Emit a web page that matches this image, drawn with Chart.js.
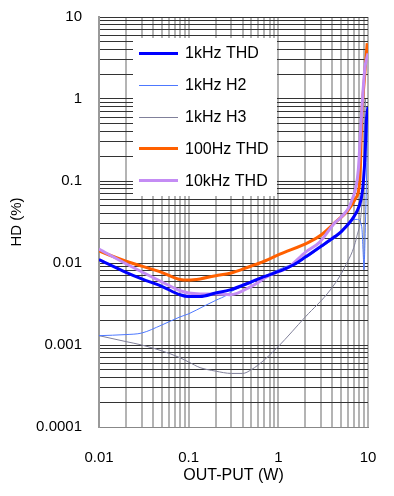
<!DOCTYPE html><html lang="ja">
<head>
<meta charset="utf-8"/>
<title>HD vs OUT-PUT</title>
<script src="https://cdn.jsdelivr.net/npm/chart.js"></script>
<style>
  html,body{margin:0;padding:0;background:#fff}
  canvas{display:block}
</style>
</head>
<body>
<canvas id="chart" width="394" height="496"></canvas>
<script>
// -------- data (W -> %) --------
const thd1kX = [0.01, 0.02, 0.03, 0.05, 0.08, 0.1, 0.134, 0.2, 0.29, 0.5, 0.62, 1.04, 1.5, 2, 3, 4.27, 5, 7, 8, 8.5, 8.9, 9.3, 9.6, 10];
const thd1kY = [0.011, 0.0077, 0.0064, 0.0052, 0.0041, 0.0039, 0.0039, 0.0043, 0.0047, 0.0059, 0.0065, 0.008, 0.0096, 0.0118, 0.016, 0.021, 0.024, 0.037, 0.05, 0.065, 0.1, 0.22, 0.55, 0.8];

const h2X = [0.01, 0.02, 0.03, 0.05, 0.08, 0.1, 0.15, 0.2, 0.27, 0.3, 0.5, 0.7, 1, 2, 3, 5, 7, 7.6, 8.5, 8.9, 9.0, 9.3, 9.6, 9.8, 10];
const h2Y = [0.0013, 0.00134, 0.0014, 0.00175, 0.0022, 0.0024, 0.003, 0.0035, 0.0041, 0.0045, 0.0057, 0.0069, 0.0083, 0.0114, 0.0155, 0.023, 0.034, 0.034, 0.028, 0.011, 0.0083, 0.023, 0.095, 0.3, 0.75];

const h3X = [0.01, 0.02, 0.03, 0.05, 0.08, 0.1, 0.134, 0.2, 0.3, 0.4, 0.5, 0.7, 1, 2, 3.8, 5.5, 7.5, 8.5, 8.9, 9.2, 9.4];
const h3Y = [0.0013, 0.0011, 0.001, 0.00085, 0.0007, 0.00062, 0.00053, 0.00048, 0.00045, 0.00045, 0.0005, 0.00066, 0.00096, 0.0022, 0.0047, 0.0089, 0.021, 0.048, 0.137, 0.56, 1.0];

const thd100X = [0.01, 0.02, 0.05, 0.08, 0.1, 0.134, 0.2, 0.29, 0.5, 0.62, 1.04, 2.2, 3, 4.27, 6, 7.2, 8.1, 8.3, 8.5, 8.8, 9.1, 9.5, 9.8];
const thd100Y = [0.014, 0.0105, 0.0077, 0.0063, 0.0062, 0.0064, 0.007, 0.0075, 0.0092, 0.01, 0.0128, 0.018, 0.022, 0.031, 0.044, 0.06, 0.1, 0.2, 0.6, 1.1, 1.7, 3.2, 4.8];

const thd10kX = [0.01, 0.02, 0.05, 0.08, 0.1, 0.134, 0.2, 0.29, 0.5, 0.8, 1.3, 2, 2.9, 4.27, 5, 6.6, 7.8, 8.4, 9.2, 10];
const thd10kY = [0.0148, 0.0098, 0.0059, 0.0046, 0.0043, 0.0042, 0.0042, 0.0041, 0.0052, 0.0071, 0.0089, 0.0135, 0.018, 0.031, 0.036, 0.058, 0.137, 0.56, 2.3, 3.6];

const seriesLabels = ['1kHz THD', '1kHz H2', '1kHz H3', '100Hz THD', '10kHz THD'];
const xTickLabels = ['0.01', '0.1', '1', '10'];
const yTickLabels = ['0.0001', '0.001', '0.01', '0.1', '1', '10'];

// -------- helpers --------
const FONT = "'Liberation Sans', Arial, sans-serif";
const pts = (xs, ys) => xs.map((x, i) => ({x, y: ys[i]}));
// grid at 1..9 of every decade between the first and last labelled value
function logGrid(labels){
  const out = [];
  const lo = Math.round(Math.log10(+labels[0])), hi = Math.round(Math.log10(+labels[labels.length - 1]));
  for(let e = lo; e < hi; e++) for(let m = 1; m < 10; m++) out.push(+(m * Math.pow(10, e)).toPrecision(3));
  out.push(+labels[labels.length - 1]);
  return out;
}
const isDecade = v => Math.abs(Math.log10(v) - Math.round(Math.log10(v))) < 1e-9;

const styles = [
  {color: '#0000ff', width: 3},
  {color: '#4d78ff', width: 1},
  {color: '#80809a', width: 1},
  {color: '#ff6000', width: 3},
  {color: '#c48cf4', width: 3}
];
const dataSets = [pts(thd1kX, thd1kY), pts(h2X, h2Y), pts(h3X, h3Y), pts(thd100X, thd100Y), pts(thd10kX, thd10kY)];
// draw order: thin lines underneath the thick ones
const drawOrder = [0, 4, 5, 2, 1];

// legend box drawn inside the plot
const boxLegend = {
  id: 'boxLegend',
  afterDatasetsDraw(chart){
    const {ctx, chartArea: a} = chart;
    const x0 = a.left + 34, y0 = a.top + 21, w = 144, h = 158;
    ctx.save();
    ctx.fillStyle = '#fff';
    ctx.fillRect(x0, y0, w, h);
    ctx.font = '16px ' + FONT;
    ctx.textBaseline = 'middle';
    ctx.fillStyle = '#000';
    seriesLabels.forEach((lab, i) => {
      const y = y0 + 15 + i * 31.8;
      ctx.strokeStyle = styles[i].color;
      ctx.lineWidth = styles[i].width;
      ctx.beginPath();
      ctx.moveTo(x0 + 6, Math.round(y) + 0.5);
      ctx.lineTo(x0 + 45, Math.round(y) + 0.5);
      ctx.stroke();
      ctx.fillText(lab, x0 + 52, y + 1);
    });
    ctx.restore();
  }
};

new Chart(document.getElementById('chart'), {
  type: 'line',
  data: {
    datasets: seriesLabels.map((label, i) => ({
      label,
      data: dataSets[i],
      borderColor: styles[i].color,
      borderWidth: styles[i].width,
      pointRadius: 0,
      fill: false,
      cubicInterpolationMode: 'monotone',
      order: drawOrder[i]
    }))
  },
  options: {
    responsive: false,
    animation: false,
    layout: {padding: {left: 0, top: 17, right: 26, bottom: 0}},
    plugins: {legend: {display: false}, tooltip: {enabled: false}},
    scales: {
      x: {
        type: 'logarithmic',
        min: 0.01, max: 10,
        afterBuildTicks: s => { s.ticks = logGrid(xTickLabels).map(v => ({value: v})); },
        afterFit: s => { s.height = 69; },
        grid: {color: '#b4b4b4', lineWidth: 2, drawTicks: true, tickLength: 22, tickColor: 'rgba(0,0,0,0)'},
        border: {color: '#888', width: 1},
        ticks: {
          padding: 0, color: '#000', font: {family: FONT, size: 15}, autoSkip: false, maxRotation: 0,
          callback: v => isDecade(v) ? xTickLabels.find(l => Math.abs(+l - v) < v * 1e-6) : ''
        },
        title: {display: true, text: 'OUT-PUT (W)', color: '#000', font: {family: FONT, size: 16}, padding: {bottom: 11}}
      },
      y: {
        type: 'logarithmic',
        min: 0.0001, max: 10,
        afterBuildTicks: s => { s.ticks = logGrid(yTickLabels).map(v => ({value: v})); },
        afterFit: s => { s.width = 99; },
        grid: {color: '#333', lineWidth: 1, drawTicks: true, tickLength: 17, tickColor: 'rgba(0,0,0,0)'},
        border: {color: '#999', width: 2},
        ticks: {
          padding: 0, color: '#000', font: {family: FONT, size: 15}, autoSkip: false,
          callback: v => isDecade(v) ? yTickLabels.find(l => Math.abs(+l - v) < v * 1e-6) : ''
        },
        title: {display: true, text: 'HD (%)', color: '#000', font: {family: FONT, size: 15}, padding: {top: 8}}
      }
    }
  },
  plugins: [boxLegend]
});
</script>
</body>
</html>
